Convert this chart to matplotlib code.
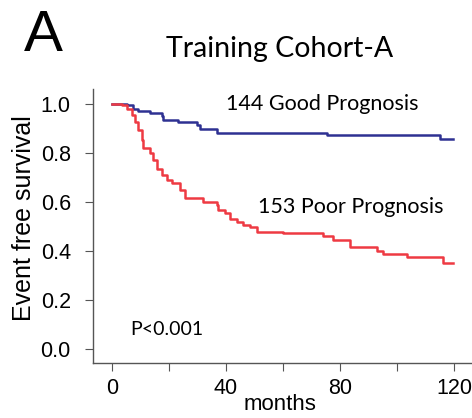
import numpy as np
import matplotlib.pyplot as plt

# Kaplan-Meier style step curves
good_t = [0, 5.1, 7.5, 9.2, 13.3, 17.4, 18.0, 23.0, 29.7, 31.0, 36.7, 75.3, 115.0, 119.7]
good_s = [1.0, 0.996, 0.982, 0.971, 0.965, 0.951, 0.935, 0.928, 0.914, 0.900, 0.884, 0.876, 0.856, 0.856]

poor_t = [0, 3.4, 5.1, 6.9, 8.1, 9.2, 10.4, 11.0, 13.3, 14.5, 15.7, 17.4, 19.2, 20.9,
          23.9, 25.6, 32.0, 36.7, 37.3, 39.6, 41.4, 43.7, 46.1, 48.4, 50.8, 60.1,
          74.2, 77.7, 83.5, 92.9, 95.2, 103.4, 116.3, 119.7]
poor_s = [1.0, 0.996, 0.982, 0.955, 0.928, 0.894, 0.853, 0.819, 0.799, 0.771, 0.737, 0.710, 0.690, 0.676,
          0.649, 0.615, 0.601, 0.588, 0.567, 0.554, 0.533, 0.520, 0.506, 0.497, 0.479, 0.472,
          0.461, 0.445, 0.418, 0.401, 0.388, 0.377, 0.352, 0.352]

good_label = "144 Good Prognosis"
poor_label = "153 Poor Prognosis"
title = "Training Cohort-A"
pval = "P<0.001"

xticks = [0, 20, 40, 60, 80, 100, 120]
xticklabels = ['0', '', '40', '', '80', '', '120']
yticks = [0.0, 0.2, 0.4, 0.6, 0.8, 1.0]

cal = ['Lato', 'DejaVu Sans']
arial = ['Liberation Sans', 'DejaVu Sans']

fig = plt.figure(figsize=(4.72, 4.18), dpi=100)
ax = fig.add_axes([0.197, 0.1316, 0.801, 0.655])

ax.step(good_t, good_s, where='post', color='#2E3192', lw=1.8)
ax.step(poor_t, poor_s, where='post', color='#EE3A43', lw=1.8)

ax.set_xlim(-6.7, 126)
ax.set_ylim(-0.057, 1.061)

ax.set_xticks(xticks)
ax.set_xticklabels(xticklabels, family=arial, fontsize=15.5)
ax.set_yticks(yticks)
ax.set_yticklabels(['%.1f' % v for v in yticks], family=arial, fontsize=15.5)

for s in ['top', 'right']:
    ax.spines[s].set_visible(False)
for s in ['left', 'bottom']:
    ax.spines[s].set_color('#555555')
    ax.spines[s].set_linewidth(1.0)
ax.tick_params(direction='out', length=6, color='#555555')
ax.tick_params(axis='y', pad=10)
ax.tick_params(axis='x', pad=5)

ax.set_ylabel('Event free survival', family=arial, fontsize=18)
ax.yaxis.set_label_coords(-0.15, 0.53)
ax.set_xlabel('months', family=arial, fontsize=16)
ax.xaxis.set_label_coords(0.495, -0.112)

ax.text(40, 1.0, good_label, family=cal, fontsize=15.5, va='center', ha='left')
ax.text(51.2, 0.578, poor_label, family=cal, fontsize=15.5, va='center', ha='left')
ax.text(6.3, 0.08, pval, family=cal, fontsize=14, va='center', ha='left')

fig.text(0.593, 0.882, title, family=cal, fontsize=20.5, ha='center', va='center')
fig.text(0.05, 0.915, 'A', family=arial, fontsize=42, ha='left', va='center')

fig.savefig('out.png', dpi=100)
